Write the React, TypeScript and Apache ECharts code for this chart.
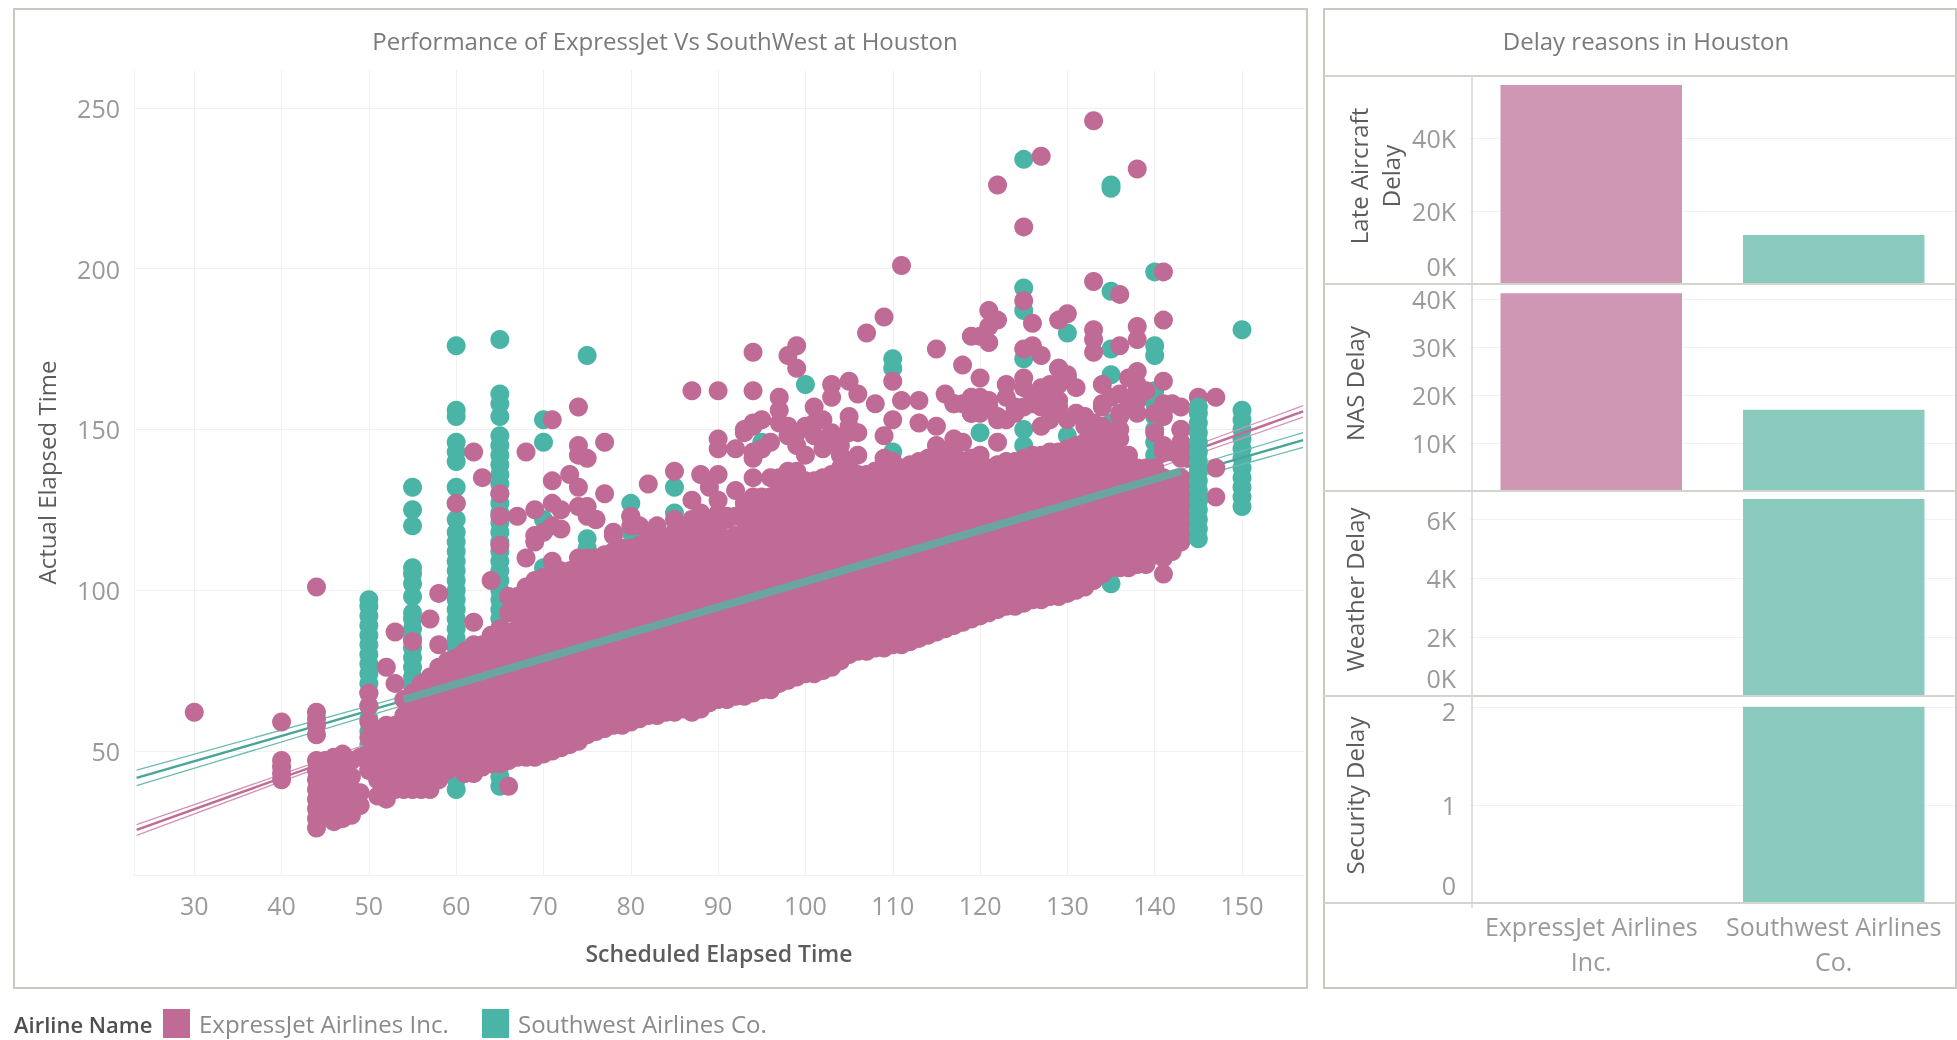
import React, { useEffect, useRef } from "react";
import * as echarts from "echarts";

const FONT = "Open Sans";
const PINK = "#bf6b96";
const TEAL = "#4ab5a6";
const PINK_BAR = "#cf97b3";
const TEAL_BAR = "#8bcbbf";

const xTicks = [30, 40, 50, 60, 70, 80, 90, 100, 110, 120, 130, 140, 150];
const yTicks = [50, 100, 150, 200, 250];
const airlines = ["ExpressJet Airlines Inc.", "Southwest Airlines Co."];
const airlineLabels = ["ExpressJet Airlines\nInc.", "Southwest Airlines\nCo."];

const lateAircraftDelay = [54500, 13400];
const nasDelay = [41200, 16900];
const weatherDelay = [0, 6700];
const securityDelay = [0, 2];

const lateTicks = [0, 20000, 40000];
const nasTicks = [10000, 20000, 30000, 40000];
const weatherTicks = [0, 2000, 4000, 6000];
const securityTicks = [0, 1, 2];

// Each row: scheduled time, then the actual times read at that scheduled time.
const expressJetColumns: [number, number[]][] = [
  [30, [62]],
  [40, [41, 43, 45, 47, 59]],
  [44, [26, 29, 32, 35, 38, 41, 44, 47, 55, 58, 60, 62, 101]],
  [45, [31, 35, 39, 43, 47]],
  [46, [28, 32, 36, 40, 44, 48]],
  [47, [29, 33, 37, 41, 45, 49]],
  [48, [30, 34, 38, 42, 47]],
  [49, [33, 37, 48]],
  [50, [44, 49, 54, 59, 64, 68]],
  [51, [36, 41, 46, 51, 56]],
  [52, [35, 40, 45, 50, 55, 58, 76]],
  [53, [38, 43, 48, 53, 58, 71, 87]],
  [54, [38, 43, 48, 53, 58, 61, 66]],
  [55, [38, 43, 48, 53, 58, 63, 68, 84]],
  [56, [38, 43, 48, 53, 58, 63, 68, 71]],
  [57, [38, 43, 48, 53, 58, 63, 68, 73, 91]],
  [58, [41, 46, 51, 56, 61, 66, 71, 76, 83, 99]],
  [59, [44, 49, 54, 59, 64, 69, 74, 78]],
  [60, [45, 50, 55, 60, 65, 70, 75, 79, 127]],
  [61, [43, 48, 53, 58, 63, 68, 73, 78, 81]],
  [62, [43, 48, 53, 58, 63, 68, 73, 78, 83, 90, 143]],
  [63, [45, 50, 55, 60, 65, 70, 75, 80, 83, 135]],
  [64, [46, 51, 56, 61, 66, 71, 76, 81, 86, 103]],
  [65, [46, 51, 56, 61, 66, 71, 76, 81, 86, 88, 114, 123, 130]],
  [66, [39, 47, 52, 57, 62, 67, 72, 77, 82, 87, 93, 98]],
  [67, [48, 53, 58, 63, 68, 73, 78, 83, 88, 93, 98, 123]],
  [68, [48, 53, 58, 63, 68, 73, 78, 83, 88, 93, 98, 101, 110, 143]],
  [69, [48, 53, 58, 63, 68, 73, 78, 83, 88, 93, 98, 103, 115, 125]],
  [70, [49, 54, 59, 64, 69, 74, 79, 84, 89, 94, 99, 104, 118]],
  [71, [50, 55, 60, 65, 70, 75, 80, 85, 90, 95, 100, 105, 109, 127, 134, 153]],
  [72, [51, 56, 61, 66, 71, 76, 81, 86, 91, 96, 101, 106, 119, 125]],
  [73, [52, 57, 62, 67, 72, 77, 82, 87, 92, 97, 102, 106, 136]],
  [74, [53, 58, 63, 68, 73, 78, 83, 88, 93, 98, 103, 108, 110, 126, 132, 142, 145, 157]],
  [75, [55, 60, 65, 70, 75, 80, 85, 90, 95, 100, 105, 110, 126, 141]],
  [76, [56, 61, 66, 71, 76, 81, 86, 91, 96, 101, 106, 110, 122]],
  [77, [57, 62, 67, 72, 77, 82, 87, 92, 97, 102, 107, 111, 130, 146]],
  [78, [58, 63, 68, 73, 78, 83, 88, 93, 98, 103, 108, 112, 118]],
  [79, [58, 63, 68, 73, 78, 83, 88, 93, 98, 103, 108, 113]],
  [80, [59, 64, 69, 74, 79, 84, 89, 94, 99, 104, 109, 113, 123]],
  [81, [60, 65, 70, 75, 80, 85, 90, 95, 100, 105, 110, 114, 120]],
  [82, [61, 66, 71, 76, 81, 86, 91, 96, 101, 106, 111, 114, 133]],
  [83, [61, 66, 71, 76, 81, 86, 91, 96, 101, 106, 111, 116, 120]],
  [84, [62, 67, 72, 77, 82, 87, 92, 97, 102, 107, 110, 112, 116]],
  [85, [62, 67, 72, 77, 82, 87, 92, 97, 102, 107, 112, 118, 122, 137]],
  [86, [63, 68, 73, 78, 83, 88, 93, 98, 103, 108, 113, 118]],
  [87, [62, 67, 72, 77, 82, 87, 92, 97, 102, 107, 112, 117, 122, 128, 162]],
  [88, [63, 68, 73, 78, 83, 88, 93, 98, 103, 108, 113, 118, 124, 136]],
  [89, [65, 70, 75, 80, 85, 90, 95, 100, 105, 110, 115, 120, 132]],
  [90, [66, 71, 76, 81, 86, 91, 96, 101, 106, 111, 116, 121, 124, 128, 136, 144, 147, 162]],
  [91, [66, 71, 76, 81, 86, 91, 96, 101, 106, 111, 116, 122]],
  [92, [67, 72, 77, 82, 87, 92, 97, 102, 107, 112, 117, 123, 131, 144]],
  [93, [67, 72, 77, 82, 87, 92, 97, 102, 107, 112, 117, 122, 127, 150]],
  [94, [68, 73, 78, 83, 88, 93, 98, 103, 108, 113, 118, 123, 129, 135, 141, 162, 174]],
  [95, [69, 74, 79, 84, 89, 94, 99, 104, 109, 114, 119, 124, 129, 144, 153]],
  [96, [69, 74, 79, 84, 89, 94, 99, 104, 109, 114, 119, 123, 129, 135]],
  [97, [71, 76, 81, 86, 91, 96, 101, 106, 111, 116, 121, 126, 131, 135, 152, 156, 160]],
  [98, [72, 77, 82, 87, 92, 97, 102, 107, 112, 117, 122, 127, 132, 137, 148, 173]],
  [99, [73, 78, 83, 88, 93, 98, 103, 108, 113, 118, 123, 128, 133, 137, 169, 176]],
  [100, [74, 79, 84, 89, 94, 99, 104, 109, 114, 119, 124, 129, 134, 151]],
  [101, [74, 79, 84, 89, 94, 99, 104, 109, 114, 119, 124, 129, 134, 148, 157]],
  [102, [75, 80, 85, 90, 95, 100, 105, 110, 115, 120, 125, 130, 135, 153]],
  [103, [76, 81, 86, 91, 96, 101, 106, 111, 116, 121, 126, 131, 136, 149, 160, 164]],
  [104, [78, 83, 88, 93, 98, 103, 108, 113, 118, 123, 128, 133, 138, 142]],
  [105, [80, 85, 90, 95, 100, 105, 110, 115, 120, 125, 130, 135, 138, 149, 154, 165]],
  [106, [81, 86, 91, 96, 101, 106, 111, 116, 121, 126, 131, 136, 161]],
  [107, [81, 86, 91, 96, 101, 106, 111, 116, 121, 126, 131, 136, 180]],
  [108, [82, 87, 92, 97, 102, 107, 112, 117, 122, 127, 132, 137, 158]],
  [109, [82, 87, 92, 97, 102, 107, 112, 117, 122, 127, 132, 137, 141, 148, 185]],
  [110, [83, 88, 93, 98, 103, 108, 113, 118, 123, 128, 133, 138, 140, 153, 165]],
  [111, [83, 88, 93, 98, 103, 108, 113, 118, 123, 128, 133, 138, 159, 201]],
  [112, [84, 89, 94, 99, 104, 109, 114, 119, 124, 129, 134, 139]],
  [113, [85, 90, 95, 100, 105, 110, 115, 120, 125, 130, 135, 140, 152, 159]],
  [114, [86, 91, 96, 101, 106, 111, 116, 121, 126, 131, 136, 141]],
  [115, [87, 92, 97, 102, 107, 112, 117, 122, 127, 132, 137, 140, 145, 151, 175]],
  [116, [88, 93, 98, 103, 108, 113, 118, 123, 128, 133, 138, 143, 161]],
  [117, [89, 94, 99, 104, 109, 114, 119, 124, 129, 134, 139]],
  [118, [90, 95, 100, 105, 110, 115, 120, 125, 130, 135, 140, 146, 158, 170]],
  [119, [91, 96, 101, 106, 111, 116, 121, 126, 131, 136, 141, 155, 179]],
  [120, [92, 97, 102, 107, 112, 117, 122, 127, 132, 137, 142, 160, 166, 179]],
  [121, [93, 98, 103, 108, 113, 118, 123, 128, 133, 138, 157, 177, 182, 187]],
  [122, [94, 99, 104, 109, 114, 119, 124, 129, 134, 139, 146, 153, 184, 226]],
  [123, [95, 100, 105, 110, 115, 120, 125, 130, 135, 140, 164]],
  [124, [95, 100, 105, 110, 115, 120, 125, 130, 135, 140, 155]],
  [125, [96, 101, 106, 111, 116, 121, 126, 131, 136, 141, 166, 175, 190, 213]],
  [126, [97, 102, 107, 112, 117, 122, 127, 132, 137, 142, 159, 176, 183]],
  [127, [97, 102, 107, 112, 117, 122, 127, 132, 137, 142, 151, 163, 173, 235]],
  [128, [98, 103, 108, 113, 118, 123, 128, 133, 138, 143, 164]],
  [129, [98, 103, 108, 113, 118, 123, 128, 133, 138, 143, 159, 169, 184]],
  [130, [99, 104, 109, 114, 119, 124, 129, 134, 139, 144, 186]],
  [131, [100, 105, 110, 115, 120, 125, 130, 135, 140, 145, 155, 163]],
  [132, [101, 106, 111, 116, 121, 126, 131, 136, 141, 146, 154]],
  [133, [103, 108, 113, 118, 123, 128, 133, 138, 143, 146, 174, 178, 181, 196, 246]],
  [134, [105, 110, 115, 120, 125, 130, 135, 140, 145, 158, 164]],
  [135, [107, 112, 117, 122, 127, 132, 137, 142, 147, 160]],
  [136, [107, 112, 117, 122, 127, 132, 137, 142, 154, 161, 176, 192]],
  [137, [107, 112, 117, 122, 127, 132, 137, 142, 166]],
  [138, [108, 113, 118, 123, 128, 133, 138, 155, 164, 168, 178, 182, 231]],
  [139, [108, 113, 118, 123, 128, 133, 138]],
  [140, [111, 116, 121, 126, 131, 136]],
  [141, [105, 110, 115, 120, 125, 130, 135, 145, 154, 158, 165, 184, 199]],
  [142, [112, 117, 122, 127, 132]],
  [143, [115, 120, 125, 130, 135, 145, 150, 157]],
  [144, [118, 123, 128, 133]],
  [145, [128, 160]],
  [147, [129, 138, 160]],
];

// Loose points read above the solid part of the ExpressJet cloud.
const expressJetLoosePoints: number[][] = [
  [69, 117], [71, 120], [74, 105], [75, 106], [75, 123], [76, 122], [77, 104], [78, 117], [80, 120], [82, 118], [82, 113],
  [91, 123], [94, 126], [96, 129], [96, 127], [98, 134], [100, 142], [102, 147], [102, 144], [104, 145], [106, 142],
  [99, 145], [98, 151], [99, 149], [103, 148], [101, 152], [105, 151], [106, 149], [108, 137], [110, 138], [112, 138],
  [114, 137], [116, 142], [117, 142], [117, 147], [117, 158], [94, 151], [94, 152], [93, 149], [94, 143], [96, 146], [95, 144],
  [117, 158], [119, 160], [120, 158], [121, 159], [119, 155], [120, 155], [122, 154], [123, 153], [123, 160], [124, 157],
  [125, 163], [127, 161], [128, 160], [129, 157], [129, 164], [129, 169], [130, 167], [125, 157], [126, 158], [127, 157],
  [128, 153], [130, 153], [132, 151], [133, 152], [133, 147], [134, 151], [136, 150], [136, 147], [136, 155], [138, 159],
  [138, 162], [137, 159], [139, 162], [134, 157], [140, 155], [142, 158], [140, 149], [142, 143], [143, 150], [143, 146],
  [143, 141], [141, 143], [140, 138], [144, 141],
];

const southwestColumns: [number, number[]][] = [
  [50, [44, 48, 52, 56, 60, 64, 68, 71, 74, 77, 80, 83, 86, 89, 92, 95, 97]],
  [55, [59, 70, 73, 76, 79, 82, 85, 88, 91, 93, 98, 102, 105, 107, 120, 125, 132]],
  [60, [38, 41, 44, 47, 82, 85, 88, 91, 94, 97, 100, 103, 106, 109, 112, 115, 118, 122, 127, 132, 140, 143, 146, 154, 156, 176]],
  [65, [39, 42, 45, 82, 85, 88, 91, 94, 97, 100, 103, 106, 109, 112, 115, 118, 121, 124, 127, 130, 133, 136, 139, 142, 145, 148, 154, 158, 161, 178]],
  [70, [96, 102, 107, 122, 146, 153]],
  [75, [113, 116, 173]],
  [80, [105, 109, 113, 118, 123, 127]],
  [85, [99, 103, 106, 110, 115, 124, 132]],
  [90, [118]],
  [95, [146]],
  [100, [164]],
  [110, [143, 169, 172]],
  [120, [149]],
  [125, [96, 145, 150, 172, 187, 194, 234]],
  [130, [148, 166, 180]],
  [135, [102, 106, 110, 114, 152, 167, 175, 193, 225, 226]],
  [140, [111, 115, 119, 123, 138, 142, 146, 150, 154, 158, 162, 173, 176, 199]],
  [150, [126, 129, 132, 135, 138, 141, 144, 147, 150, 153, 156, 181]],
];

const southwestFrontColumns: [number, number[]][] = [
  [145, [116, 119, 122, 125, 128, 131, 134, 137, 140, 143, 146, 149, 152, 155, 157]],
];

const expressTrend = [[23.4, 25.4], [40, 41.6], [70, 70.8], [100, 100], [130, 129.3], [157, 155.6]];
const expressTrendUpper = [[23.4, 27.1], [40, 42.7], [70, 71.6], [100, 100.7], [130, 130.3], [157, 157.4]];
const expressTrendLower = [[23.4, 23.7], [40, 40.5], [70, 70], [100, 99.3], [130, 128.3], [157, 153.8]];
const southwestTrend = [[23.4, 41.6], [50, 62.5], [90, 94], [130, 125.5], [157, 146.7]];
const southwestTrendUpper = [[23.4, 44], [50, 64], [90, 94.6], [130, 127], [157, 149]];
const southwestTrendLower = [[23.4, 39.2], [50, 61], [90, 93.4], [130, 124], [157, 144.4]];
const southwestTrendCore = [[54, 66], [143, 137]];

const flatten = (cols: [number, number[]][]) =>
  cols.flatMap(([x, ys]) => ys.map((y) => [x, y]));

const LABEL = "#9a9a9a";
const DARK = "#5c5c5c";
const GRIDLINE = "#f1f1f1";
const FRAME = "#c9c9bf";

const trend = (data: number[][], color: string, width: number, z: number) => ({
  type: "line",
  data,
  xAxisIndex: 0,
  yAxisIndex: 0,
  showSymbol: false,
  silent: true,
  lineStyle: { color, width },
  z,
});

const rows = [
  { name: "Late Aircraft\nDelay", top: 76, bottom: 284, max: 57000, ticks: lateTicks, data: lateAircraftDelay, gap: 64 },
  { name: "NAS Delay", top: 284, bottom: 491, max: 43100, ticks: nasTicks, data: nasDelay, gap: 100 },
  { name: "Weather Delay", top: 491, bottom: 696, max: 6970, ticks: weatherTicks, data: weatherDelay, gap: 100 },
  { name: "Security Delay", top: 696, bottom: 903, max: 2.11, ticks: securityTicks, data: securityDelay, gap: 100 },
];

const tickText = (v: number, small: boolean) => {
  if (small) {
    if (v === 0) return "{up|0}";
    if (v === 2) return "{down|2}";
    return String(v);
  }
  if (v === 0) return "{up|0K}";
  return `${v / 1000}K`;
};

const App = () => {
  const ref = useRef<HTMLDivElement>(null);
  useEffect(() => {
    const chart = echarts.init(ref.current!, undefined, { renderer: "svg" });
    const tickFont = { color: LABEL, fontFamily: FONT, fontSize: 25 };
    const grids: any[] = [{ left: 134, right: 653, top: 70, bottom: 165 }];
    const xAxes: any[] = [
      {
        type: "value",
        gridIndex: 0,
        min: 23.1,
        max: 157.1,
        name: "Scheduled Elapsed Time",
        nameLocation: "middle",
        nameGap: 66,
        nameTextStyle: { color: DARK, fontFamily: FONT, fontSize: 23, fontWeight: 600 },
        axisLine: { show: true, lineStyle: { color: GRIDLINE } },
        axisTick: { show: false, customValues: xTicks },
        axisLabel: { ...tickFont, margin: 17, customValues: xTicks },
        splitLine: { show: true, lineStyle: { color: GRIDLINE } },
      },
    ];
    const yAxes: any[] = [
      {
        type: "value",
        gridIndex: 0,
        min: 11.4,
        max: 261.8,
        name: "Actual Elapsed Time",
        nameLocation: "middle",
        nameGap: 76,
        nameTextStyle: { color: DARK, fontFamily: FONT, fontSize: 24 },
        axisLine: { show: true, lineStyle: { color: GRIDLINE } },
        axisTick: { show: false, customValues: yTicks },
        axisLabel: { ...tickFont, margin: 14, customValues: yTicks },
        splitLine: { show: true, lineStyle: { color: GRIDLINE } },
      },
    ];
    const barSeries: any[] = [];
    rows.forEach((r, i) => {
      const idx = i + 1;
      const small = r.max < 10;
      grids.push({ left: 1470, right: 2, top: r.top, height: r.bottom - r.top });
      xAxes.push({
        type: "category",
        gridIndex: idx,
        data: airlineLabels,
        axisLine: { show: false },
        axisTick: { show: false },
        axisLabel: {
          show: i === 3,
          ...tickFont,
          fontSize: 25,
          margin: 5,
          lineHeight: 35,
          interval: 0,
        },
      });
      yAxes.push({
        type: "value",
        gridIndex: idx,
        min: 0,
        max: r.max,
        name: r.name,
        nameLocation: "middle",
        nameGap: r.gap,
        nameTextStyle: { color: DARK, fontFamily: FONT, fontSize: 24, lineHeight: 32, padding: [0, 0, 0, 8] },
        axisLine: { show: false },
        axisTick: { show: false, customValues: r.ticks },
        axisLabel: {
          ...tickFont,
          margin: 14,
          customValues: r.ticks,
          formatter: (v: number) => tickText(v, small),
          rich: {
            up: { ...tickFont, padding: [0, 0, 36, 0] },
            down: { ...tickFont, padding: [8, 0, 0, 0] },
          },
        },
        splitLine: { show: true, lineStyle: { color: GRIDLINE } },
      });
      barSeries.push({
        type: "bar",
        xAxisIndex: idx,
        yAxisIndex: idx,
        barWidth: 181.5,
        silent: true,
        data: r.data.map((value, k) => ({
          value,
          itemStyle: { color: k === 0 ? PINK_BAR : TEAL_BAR },
        })),
      });
    });

    const frame = (x: number, y: number, width: number, height: number) => ({
      type: "rect",
      shape: { x, y, width, height },
      style: { fill: "none", stroke: FRAME, lineWidth: 2 },
      silent: true,
    });
    const hLine = (y: number) => ({
      type: "line",
      shape: { x1: 1324, y1: y, x2: 1956, y2: y },
      style: { stroke: "#d4d4cf", lineWidth: 2 },
      silent: true,
      z: 5,
    });

    chart.setOption({
      animation: false,
      backgroundColor: "#ffffff",
      title: [
        {
          text: "Performance of ExpressJet Vs SouthWest at Houston",
          left: 660,
          top: 23,
          textAlign: "center",
          textStyle: { color: "#7a7a7a", fontFamily: FONT, fontSize: 24, fontWeight: 400 },
        },
        {
          text: "Delay reasons in Houston",
          left: 1641,
          top: 23,
          textAlign: "center",
          textStyle: { color: "#7a7a7a", fontFamily: FONT, fontSize: 24, fontWeight: 400 },
        },
      ],
      legend: {
        left: 163,
        top: 1009,
        padding: 0,
        icon: "rect",
        itemWidth: 27,
        itemHeight: 29,
        itemGap: 21,
        selectedMode: false,
        data: airlines,
        textStyle: { color: "#8a8a8a", fontFamily: FONT, fontSize: 24, lineHeight: 24, padding: [0, 0, 0, 4], width: 262, overflow: "none" },
      },
      grid: grids,
      xAxis: xAxes,
      yAxis: yAxes,
      graphic: [
        frame(14, 9, 1293, 979),
        frame(1324, 9, 632, 979),
        hLine(76),
        hLine(284),
        hLine(491),
        hLine(696),
        hLine(903),
        {
          type: "line",
          shape: { x1: 1472, y1: 76, x2: 1472, y2: 908 },
          style: { stroke: "#d4d4cf", lineWidth: 1.5 },
          silent: true,
          z: 5,
        },
        {
          type: "text",
          x: 14,
          y: 1024,
          style: {
            text: "Airline Name",
            fill: "#4f4f4f",
            font: `600 22px ${FONT}`,
            lineHeight: 24,
            textVerticalAlign: "middle",
          },
        },
      ],
      series: [
        {
          name: airlines[1],
          type: "scatter",
          symbolSize: 19,
          itemStyle: { color: TEAL, opacity: 1 },
          data: flatten(southwestColumns),
          silent: true,
          z: 2,
        },
        trend(southwestTrendUpper, "#6cbcae", 1.3, 3),
        trend(southwestTrendLower, "#6cbcae", 1.3, 3),
        trend(southwestTrend, "#4aa597", 2.4, 3),
        trend(expressTrendUpper, "#d195b3", 1.3, 3),
        trend(expressTrendLower, "#d195b3", 1.3, 3),
        trend(expressTrend, "#c06c97", 2.4, 3),
        {
          name: airlines[0],
          type: "scatter",
          symbolSize: 19,
          itemStyle: { color: PINK, opacity: 1 },
          data: [...flatten(expressJetColumns), ...expressJetLoosePoints],
          silent: true,
          z: 4,
        },
        {
          name: airlines[1],
          type: "scatter",
          symbolSize: 19,
          itemStyle: { color: TEAL, opacity: 1 },
          data: flatten(southwestFrontColumns),
          silent: true,
          z: 5,
        },
        trend(southwestTrendCore, "#6ba5a0", 8, 6),
        ...barSeries,
      ],
    });
    return () => chart.dispose();
  }, []);
  return (
    <div
      ref={ref}
      style={{ position: "absolute", left: 0, top: 0, width: 1957, height: 1040, filter: "blur(0.5px)" }}
    />
  );
};

export default App;
